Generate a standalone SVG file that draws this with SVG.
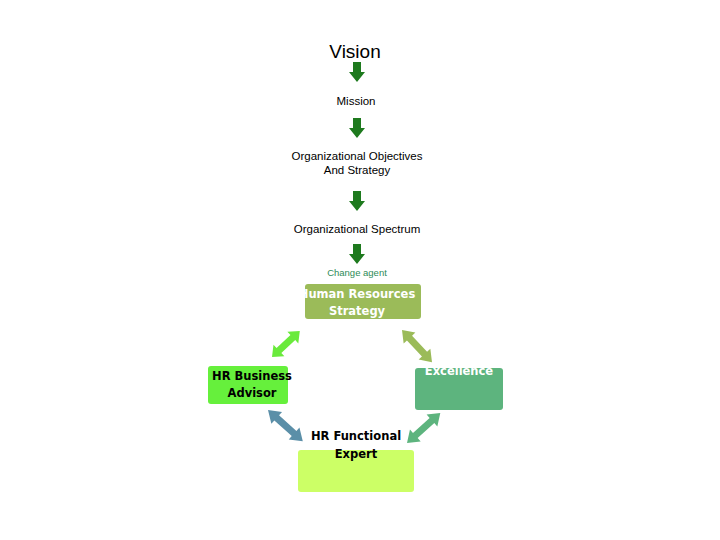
<svg xmlns="http://www.w3.org/2000/svg" width="720" height="540" viewBox="0 0 720 540">
<style>
.t{font-family:"Liberation Sans",Arial,sans-serif;fill:#000;text-anchor:middle}
.b{font-family:"DejaVu Sans",sans-serif;font-weight:bold;font-size:11.5px;text-anchor:middle}
</style>
<defs>
<path id="dn" d="M-4,0 H4 V10 H8 L0,20 L-8,10 H-4 Z" fill="#1e7a1e"/>
<path id="dbl" d="M0,0 L10,-8 V-3.5 H30 V-8 L40,0 L30,8 V3.5 H10 V8 Z"/>
</defs>
<rect width="720" height="540" fill="#fff"/>
<g id="vision"><text class="t" x="355" y="58" font-size="19">Vision</text></g>
<g id="mission"><text class="t" x="356" y="105" font-size="11.5">Mission</text></g>
<g id="objectives"><text class="t" x="357" y="160" font-size="11.5">Organizational Objectives</text><text class="t" x="357" y="174" font-size="11.5">And Strategy</text></g>
<g id="spectrum"><text class="t" x="357" y="233" font-size="11.5">Organizational Spectrum</text></g>
<g id="change"><text class="t" x="357" y="276" font-size="9.5" style="fill:#2e8b57">Change agent</text></g>
<g id="hrs"><rect x="305" y="284" width="116" height="35" rx="3" fill="#9bbb59"/><text class="b" x="357" y="298" fill="#fff">Human Resources</text><text class="b" x="357" y="315" fill="#fff">Strategy</text></g>
<g id="advisor"><rect x="208" y="366" width="80" height="38" rx="3" fill="#66f03c"/><text class="b" x="252" y="380" fill="#000">HR Business</text><text class="b" x="252" y="397" fill="#000">Advisor</text></g>
<g id="employ"><rect x="415" y="368" width="88" height="42" rx="3" fill="#5db47e"/><text class="b" x="459" y="357" fill="#fff" font-weight="normal">Employ</text><text class="b" x="459" y="375" fill="#fff" font-weight="normal">Excellence</text></g>
<g id="expert"><rect x="298" y="450" width="116" height="42" rx="3" fill="#ccff66"/><text class="b" x="356" y="440" fill="#000">HR Functional</text><text class="b" x="356" y="458" fill="#000">Expert</text></g>
<g id="connectors">
<use href="#dn" x="357" y="62"/>
<use href="#dn" x="357" y="118"/>
<use href="#dn" x="357" y="191"/>
<use href="#dn" x="357" y="244"/>
<use href="#dbl" fill="#6aea3c" transform="translate(272,357) rotate(-43) scale(0.95,1)"/>
<use href="#dbl" fill="#9bbb59" transform="translate(402,330) rotate(47) scale(1.1,1)"/>
<use href="#dbl" fill="#5b8fa8" transform="translate(268,410) rotate(42) scale(1.17,1)"/>
<use href="#dbl" fill="#5db47e" transform="translate(407,443) rotate(-42) scale(1.12,1)"/>
</g>
</svg>
